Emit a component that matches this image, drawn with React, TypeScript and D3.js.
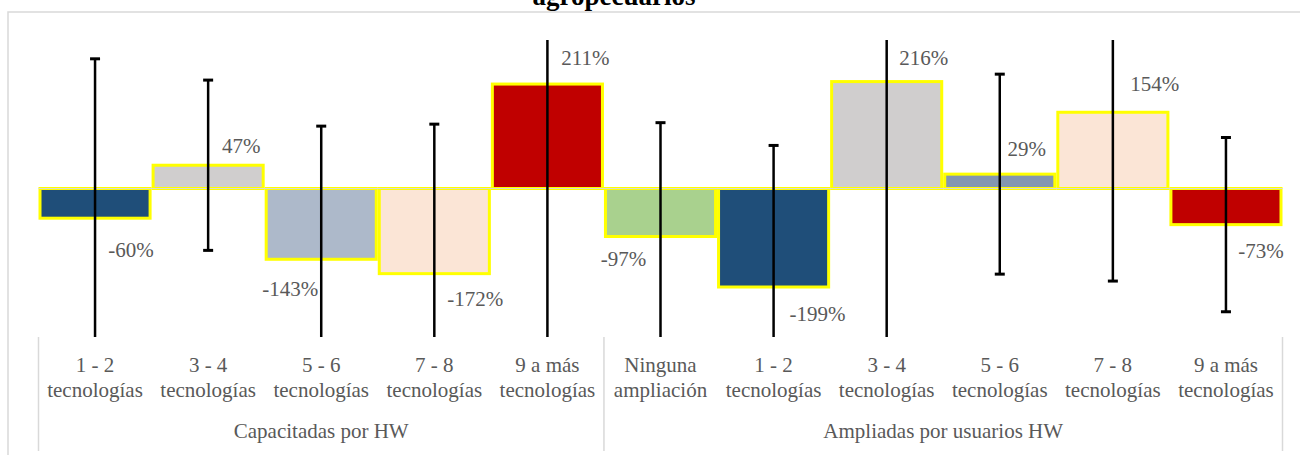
import React from "react";
import * as d3 from "d3";

// categorias (dos lineas) y grupo de cada una
const labelTop = ["1 - 2", "3 - 4", "5 - 6", "7 - 8", "9 a más", "Ninguna", "1 - 2", "3 - 4", "5 - 6", "7 - 8", "9 a más"];
const labelBottom = ["tecnologías", "tecnologías", "tecnologías", "tecnologías", "tecnologías", "ampliación", "tecnologías", "tecnologías", "tecnologías", "tecnologías", "tecnologías"];
const groups = ["Capacitadas por HW", "Ampliadas por usuarios HW"];
const groupSizes = [5, 6];

// variacion (%) y barra de error (+/- %)
const values = [-60, 47, -143, -172, 211, -97, -199, 216, 29, 154, -73];
const errors = [322, 172, 269, 302, 560, 230, 286, 540, 202, 341, 176];

const colors = ["#1F4E79", "#D0CECE", "#ADB9CA", "#FBE5D6", "#C00000", "#A9D18E", "#1F4E79", "#D0CECE", "#8497B0", "#FBE5D6", "#C00000"];

// desplazamiento manual de las etiquetas [dx, dy]
const labelNudge = [[36, 39], [33, -12], [-31, 37], [41, 32], [38, -19], [-37, 29], [44, 34], [37, -17], [27, -18], [42, -21], [35, 33]];

const W = 1300;
const H = 455;
const FONT = "Liberation Serif, DejaVu Serif, serif";
const GRAY = "#595959";

export default function App() {
  const x = d3.scaleBand<number>().domain(d3.range(values.length)).range([38.5, 1282.5]).padding(0);
  const y = d3.scaleLinear().domain([-300, 300]).range([337, 40]);
  const y0 = y(0);
  const bw = x.bandwidth();

  // limites de los grupos
  const bounds: number[] = [0];
  groupSizes.forEach((n) => bounds.push(bounds[bounds.length - 1] + n));
  const edge = (i: number) => (i < values.length ? (x(i) as number) : 1282.5);

  return (
    <svg width={W} height={H} style={{ position: "absolute", left: 0, top: 0, display: "block", background: "#fff", fontFamily: FONT }}>
      <defs>
        <clipPath id="plot">
          <rect x={0} y={y.range()[1]} width={W} height={y.range()[0] - y.range()[1]} />
        </clipPath>
      </defs>

      {/* marco */}
      <rect x={8} y={12} width={W} height={H} fill="none" stroke="#d9d9d9" strokeWidth={1.5} />

      {/* titulo (cortado arriba, como en el original) */}
      <text x={614} y={5} textAnchor="middle" fontWeight="bold" fontSize={27} fill="#000">
        agropecuarios
      </text>

      {/* barras */}
      {values.map((v, i) => (
        <rect
          key={"b" + i}
          x={(x(i) as number) + 1.5}
          y={Math.min(y(v), y0)}
          width={bw - 3}
          height={Math.abs(y(v) - y0)}
          fill={colors[i]}
          stroke="#FFFF00"
          strokeWidth={3}
        />
      ))}

      {/* eje cero */}
      <line x1={38.5} x2={1282.5} y1={y0} y2={y0} stroke="#d9d9d9" strokeWidth={1} />

      {/* barras de error */}
      <g clipPath="url(#plot)">
        {values.map((v, i) => {
          const cx = (x(i) as number) + bw / 2;
          const hi = v + errors[i];
          const lo = v - errors[i];
          return (
            <g key={"e" + i} stroke="#000">
              <line x1={cx} x2={cx} y1={y(hi)} y2={y(lo)} strokeWidth={2.5} />
              {hi <= 300 && <line x1={cx - 5} x2={cx + 5} y1={y(hi)} y2={y(hi)} strokeWidth={3} />}
              {lo >= -300 && <line x1={cx - 5} x2={cx + 5} y1={y(lo)} y2={y(lo)} strokeWidth={3} />}
            </g>
          );
        })}
      </g>

      {/* etiquetas de datos */}
      {values.map((v, i) => (
        <text
          key={"l" + i}
          x={(x(i) as number) + bw / 2 + labelNudge[i][0]}
          y={y(v) + labelNudge[i][1]}
          textAnchor="middle"
          fontSize={21}
          fill={GRAY}
        >
          {v + "%"}
        </text>
      ))}

      {/* etiquetas de categorias */}
      {values.map((_, i) => {
        const cx = (x(i) as number) + bw / 2;
        return (
          <text key={"c" + i} textAnchor="middle" fontSize={21} fill={GRAY}>
            <tspan x={cx} y={372}>{labelTop[i]}</tspan>
            <tspan x={cx} y={397}>{labelBottom[i]}</tspan>
          </text>
        );
      })}

      {/* separadores de grupo */}
      {bounds.map((b, k) => (
        <line key={"s" + k} x1={edge(b)} x2={edge(b)} y1={337} y2={451} stroke="#d9d9d9" strokeWidth={1.5} />
      ))}

      {/* etiquetas de grupo */}
      {groups.map((g, k) => (
        <text
          key={"g" + k}
          x={(edge(bounds[k]) + edge(bounds[k + 1])) / 2}
          y={438}
          textAnchor="middle"
          fontSize={21}
          fill={GRAY}
        >
          {g}
        </text>
      ))}
    </svg>
  );
}
